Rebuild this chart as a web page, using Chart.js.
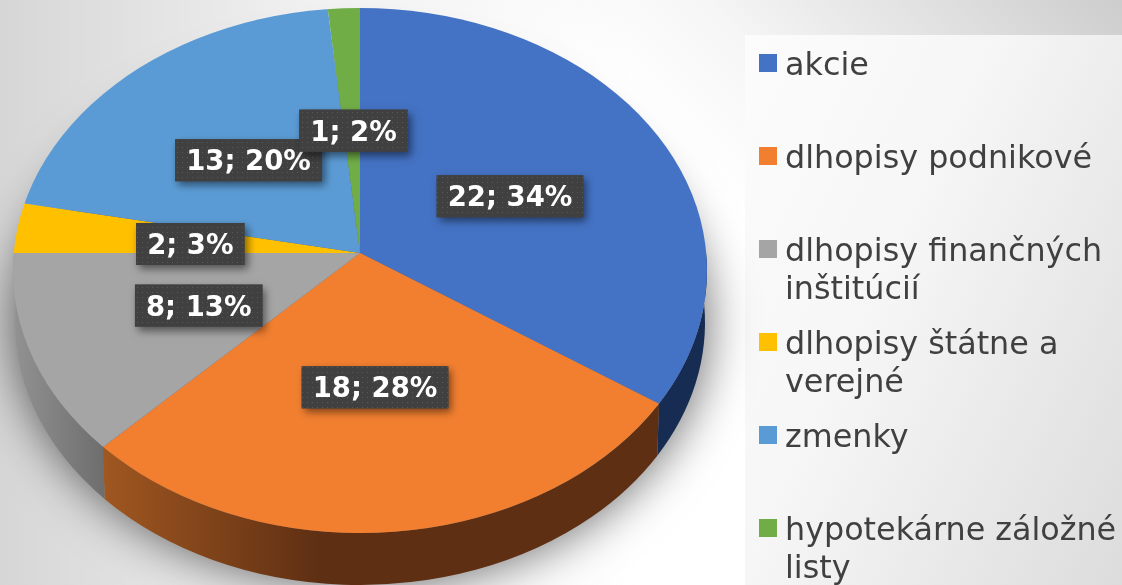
<!DOCTYPE html>
<html>
<head>
<meta charset="utf-8">
<script src="https://cdn.jsdelivr.net/npm/chart.js@4"></script>
<style>
html, body { margin: 0; padding: 0; }
body {
    width: 1122px; height: 585px; overflow: hidden; position: relative;
    background:
        linear-gradient(225deg, #cdcdcd 0, #f6f6f6 300px, rgba(255,255,255,0) 420px),
        linear-gradient(to right, #d6d6d6 0, #f0f0f0 300px, #fff 640px);
    font-family: "DejaVu Sans", sans-serif;
}
#panel {
    position: absolute; left: 745px; top: 35px; width: 377px; height: 550px;
    background: linear-gradient(115deg, #fcfcfc 0, #f6f6f6 40%, #dcdcdc 100%);
}
#chart { position: absolute; left: 0; top: 0; }
#legend { position: absolute; left: 0; top: 0; width: 1122px; height: 585px; }
.item { position: absolute; left: 759px; width: 363px; }
.item i { position: absolute; left: 0; top: 8px; width: 18px; height: 18px; }
.item span { position: absolute; left: 26px; top: -1px; width: 337px; font-size: 31.8px; line-height: 38px; color: #404040; }
</style>
</head>
<body>
<div id="panel"></div>
<canvas id="chart" width="1122" height="585"></canvas>
<div id="legend"></div>
<script>
var categories = ["akcie", "dlhopisy podnikové", "dlhopisy finančných inštitúcií", "dlhopisy štátne a verejné", "zmenky", "hypotekárne záložné listy"];
var values = [22, 18, 8, 2, 13, 1];
var sliceColors = ["#4472c4", "#f27f30", "#a5a5a5", "#ffc000", "#5b9bd5", "#70ad47"];

// side wall colours, left end / right end of the visible wall
var wallColors = [["#172c52", "#172c52"], ["#a05720", "#5e2f13"], ["#929292", "#6e6e6e"], ["#7f6000", "#7f6000"], ["#2e5f8e", "#2e5f8e"], ["#375623", "#375623"]];

// how the round pie of the library is laid on the slide (tilted, so the apex is not the rim centre)
var pie = { apexX: 360, apexY: 253, rx: 347, ryTop: 245, ryBottom: 280, rimY: 270.5, rimRy: 262.5, depth: 52, lowRx: 345 };
var skewTop = 1.5 * Math.PI / 180;
var skewBottom = -1.9 * Math.PI / 180;
var labelNudge = [[-3, 1], [-2, -5], [-1, -1], [3, 3], [5, -2], [2, 0]];

function skewAngle(angle, k) {
    return angle + k * Math.sin(2 * angle);
}

// where the slice edge at this angle meets the rim, as an ellipse parameter
function rimParam(angle) {
    var t = skewAngle(angle, Math.sin(angle) < 0 ? skewTop : skewBottom);
    var dx = Math.cos(t);
    var dy = Math.sin(t) * pie.ryBottom / pie.rimRy;
    var oy = (pie.apexY - pie.rimY) / pie.rimRy;
    var b = dy * oy;
    var aa = dx * dx + dy * dy;
    var s = (-b + Math.sqrt(b * b - aa * (oy * oy - 1))) / aa;
    return Math.atan2(oy + dy * s, dx * s);
}

function project(a, x, y) {
    var ry = y < a.y ? pie.ryTop : pie.ryBottom;
    return {
        x: pie.apexX + (x - a.x) * pie.rx / a.outerRadius,
        y: pie.apexY + (y - a.y) * ry / a.outerRadius
    };
}

// only the blur lands on the page, the ellipse itself sits off the canvas
function drawShadow(ctx, chart) {
    var away = chart.width + 1000;
    ctx.save();
    ctx.shadowColor = "rgba(0,0,0,0.58)";
    ctx.shadowBlur = 48;
    ctx.shadowOffsetX = away;
    ctx.fillStyle = "#000";
    ctx.beginPath();
    ctx.ellipse(pie.apexX - away, pie.rimY + pie.depth, pie.rx, pie.rimRy, 0, 0, Math.PI * 2);
    ctx.fill();
    ctx.restore();
}

function drawWalls(ctx, arcs) {
    arcs.forEach(function (a, i) {
        var from = Math.max(a.startAngle, 0);
        var to = Math.min(a.endAngle, Math.PI);
        if (to <= from) return;
        var p0 = rimParam(from);
        var p1 = rimParam(to);
        var x0 = pie.apexX + Math.cos(p1) * pie.rx;
        var x1 = pie.apexX + Math.cos(p0) * pie.rx;
        var g = ctx.createLinearGradient(x0, 0, Math.min(x1, pie.apexX - 40), 0);
        g.addColorStop(0, wallColors[i][0]);
        g.addColorStop(1, wallColors[i][1]);
        ctx.fillStyle = g;
        ctx.beginPath();
        ctx.ellipse(pie.apexX, pie.rimY, pie.rx, pie.rimRy, 0, p0, p1);
        ctx.ellipse(pie.apexX, pie.rimY + pie.depth, pie.lowRx, pie.rimRy, 0, p1, p0, true);
        ctx.closePath();
        ctx.fill();
    });
}

function drawFace(ctx, chart, arcs, top) {
    var first = arcs[0];
    var ry = top ? pie.ryTop : pie.ryBottom;
    var k = top ? skewTop : skewBottom;
    var over = 1.12;
    ctx.save();
    ctx.beginPath();
    ctx.ellipse(pie.apexX, pie.rimY, pie.rx, pie.rimRy, 0, 0, Math.PI * 2);
    ctx.clip();
    ctx.beginPath();
    ctx.rect(0, top ? 0 : pie.apexY, chart.width, top ? pie.apexY : chart.height - pie.apexY);
    ctx.clip();
    ctx.translate(pie.apexX, pie.apexY);
    ctx.scale(over * pie.rx / first.outerRadius, over * ry / first.outerRadius);
    ctx.translate(-first.x, -first.y);
    arcs.forEach(function (arc) {
        var s = arc.startAngle, e = arc.endAngle, c = arc.circumference;
        arc.startAngle = skewAngle(s, k);
        arc.endAngle = skewAngle(e, k);
        arc.circumference = arc.endAngle - arc.startAngle;
        arc.draw(ctx);
        arc.startAngle = s;
        arc.endAngle = e;
        arc.circumference = c;
    });
    ctx.restore();
}

function dotPattern(ctx) {
    var c = document.createElement("canvas");
    c.width = 5;
    c.height = 5;
    var t = c.getContext("2d");
    t.fillStyle = "#404040";
    t.fillRect(0, 0, 5, 5);
    t.fillStyle = "#595959";
    t.fillRect(2, 2, 1, 1);
    return ctx.createPattern(c, "repeat");
}

function drawLabels(ctx, arcs) {
    var total = values.reduce(function (s, v) { return s + v; }, 0);
    var fill = dotPattern(ctx);
    ctx.save();
    ctx.font = "bold 27.5px 'DejaVu Sans'";
    ctx.textAlign = "center";
    ctx.textBaseline = "middle";
    arcs.forEach(function (a, i) {
        var text = values[i] + "; " + Math.round(values[i] / total * 100) + "%";
        var c = a.getCenterPoint();
        var p = project(a, c.x, c.y);
        var x = p.x + labelNudge[i][0];
        var y = p.y + labelNudge[i][1];
        var w = ctx.measureText(text).width + 22;
        var h = 42;
        ctx.save();
        ctx.shadowColor = "rgba(0,0,0,0.5)";
        ctx.shadowBlur = 8;
        ctx.shadowOffsetX = 3;
        ctx.shadowOffsetY = 4;
        ctx.fillStyle = "#404040";
        ctx.fillRect(x - w / 2, y - h / 2, w, h);
        ctx.restore();
        ctx.fillStyle = fill;
        ctx.fillRect(x - w / 2, y - h / 2, w, h);
        ctx.fillStyle = "#fff";
        ctx.fillText(text, x, y + 3);
    });
    ctx.restore();
}

var slidePie = {
    id: "slidePie",
    beforeDatasetsDraw: function (chart) {
        var ctx = chart.ctx;
        var arcs = chart.getDatasetMeta(0).data;
        drawShadow(ctx, chart);
        drawWalls(ctx, arcs);
        drawFace(ctx, chart, arcs, true);
        drawFace(ctx, chart, arcs, false);
        drawLabels(ctx, arcs);
        return false;
    }
};

new Chart(document.getElementById("chart"), {
    type: "pie",
    data: {
        labels: categories,
        datasets: [{ data: values, backgroundColor: sliceColors, borderWidth: 0 }]
    },
    options: {
        responsive: false,
        animation: false,
        plugins: { legend: { display: false }, tooltip: { enabled: false } }
    },
    plugins: [slidePie]
});

// legend keeps the even row pitch of the slide
var legend = document.getElementById("legend");
categories.forEach(function (name, i) {
    var row = document.createElement("div");
    row.className = "item";
    row.style.top = (46 + i * 93) + "px";
    var box = document.createElement("i");
    box.style.background = sliceColors[i];
    var label = document.createElement("span");
    label.textContent = name;
    row.appendChild(box);
    row.appendChild(label);
    legend.appendChild(row);
});
</script>
</body>
</html>
